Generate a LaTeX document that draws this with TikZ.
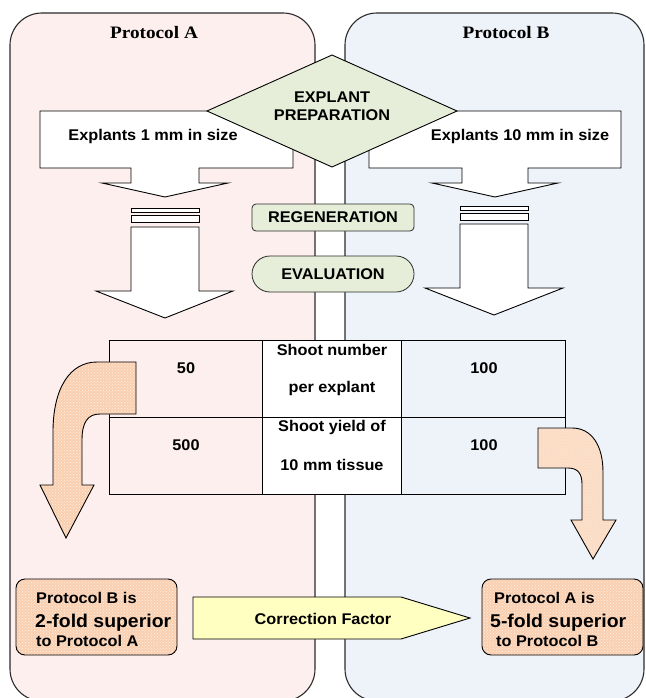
\documentclass[tikz,border=0pt]{standalone}
\usepackage{fontspec}
\setmainfont[FakeStretch=1.05]{Liberation Sans}
\newfontfamily\titlefont[FakeStretch=1.1]{Liberation Serif}
\usetikzlibrary{patterns}
\definecolor{panelA}{HTML}{FDEFED}
\definecolor{panelB}{HTML}{EEF3FA}
\definecolor{sage}{HTML}{E6EED9}
\definecolor{peach}{HTML}{F9CFB0}
\definecolor{peachlt}{HTML}{FBDDC6}
\definecolor{lemon}{HTML}{FFFFC2}
\definecolor{edge}{HTML}{2B2B2B}
\tikzset{
  panel/.style={draw=edge, line width=1.1pt, rounded corners=32pt},
  wshape/.style={draw=black, line width=0.9pt, fill=white},
  lbl/.style={font=\fontsize{15.5}{18}\selectfont\bfseries, inner sep=0pt},
  biglbl/.style={font=\fontsize{18.5}{20}\selectfont\bfseries, inner sep=0pt},
  ttl/.style={font=\titlefont\fontsize{17.5}{20}\selectfont\bfseries, inner sep=0pt},
  greenbox/.style={draw=edge, line width=0.8pt, fill=sage},
  peachfill/.style={preaction={fill=peach}, pattern=crosshatch dots, pattern color=white!70!peach, draw=black, line width=0.9pt},
  peachfilllt/.style={preaction={fill=peachlt}, pattern=dots, pattern color=white!60!peachlt, draw=black, line width=0.9pt},
}
\begin{document}
\begin{tikzpicture}[x=1pt,y=-1pt]
\useasboundingbox (0,0) rectangle (645,698);
% panels
\path[panel, fill=panelA] (10,13) rectangle (315,701);
\path[panel, fill=panelB] (345,13) rectangle (644,701);
\node[ttl] (tA) at (154,33) {Protocol A};
\node[ttl] (tB) at (506,33) {Protocol B};
% callout arrows
\draw[wshape] (40,111) -- (293,111) -- (293,168) -- (199,168) -- (199,183) -- (228,183) -- (165,197) -- (102,183) -- (131,183) -- (131,168) -- (40,168) -- cycle;
\draw[wshape] (369,111) -- (621,111) -- (621,168) -- (528,168) -- (528,183) -- (558,183) -- (495,197) -- (432,183) -- (462,183) -- (462,168) -- (369,168) -- cycle;
\node[lbl] (exA) at (153,136) {Explants 1 mm in size};
\node[lbl] (exB) at (520,136) {Explants 10 mm in size};
% diamond
\draw[greenbox, line width=0.9pt, draw=black] (332,55) -- (457,111) -- (332,167) -- (207,111) -- cycle;
\node[lbl, align=center] (prep) at (332,106) {EXPLANT\\PREPARATION};
% striped arrows
\draw[wshape] (131,208) rectangle (199,212);
\draw[wshape] (131,215) rectangle (199,222);
\draw[wshape] (131,227) -- (199,227) -- (199,291) -- (233,291) -- (165,318) -- (96,291) -- (131,291) -- cycle;
\draw[wshape] (460,206) rectangle (528,210);
\draw[wshape] (460,213) rectangle (528,220);
\draw[wshape] (460,224) -- (528,224) -- (528,288) -- (563,288) -- (494,315) -- (425,288) -- (460,288) -- cycle;
% regeneration / evaluation
\draw[greenbox, rounded corners=4pt] (252,204) rectangle (414,231);
\node[lbl] (regen) at (333,217.5) {REGENERATION};
\draw[greenbox, rounded corners=18pt] (252,256) rectangle (414,292);
\node[lbl] (eval) at (333,274) {EVALUATION};
% table
\fill[white] (262,340) rectangle (401,494);
\draw[line width=1pt] (109,340) rectangle (565,494);
\draw[line width=1pt] (109,417) -- (565,417);
\draw[line width=1pt] (262,340) -- (262,494);
\draw[line width=1pt] (401,340) -- (401,494);
\node[lbl] (n50) at (186,368) {50};
\node[lbl] (sn1) at (332,350) {Shoot number};
\node[lbl] (sn2) at (332,388) {per explant};
\node[lbl] (n100a) at (484,368) {100};
\node[lbl] (n500) at (186,445) {500};
\node[lbl] (sy1) at (332,427) {Shoot yield of};
\node[lbl] (sy2) at (332,465) {10 mm tissue};
\node[lbl] (n100b) at (484,445) {100};
% curved arrows
\path[peachfill] (136,362) -- (97,362) .. controls (70,362) and (53,388) .. (53,432) -- (53,485) -- (40,485) -- (66,538) -- (94,485) -- (82,485) -- (82,440) .. controls (82,422) and (88,414) .. (100,414) -- (136,414) -- cycle;
\path[peachfilllt] (538,428) -- (572,428) .. controls (592,428) and (603,446) .. (603,472) -- (603,520) -- (616,520) -- (593,559) -- (571,520) -- (582,520) -- (582,484) .. controls (582,474) and (578,468) .. (568,468) -- (538,468) -- cycle;
% bottom boxes
\path[peachfill, rounded corners=9pt] (16,579) rectangle (177,655);
\node[lbl, anchor=base west] (bl1) at (36,603) {Protocol B is};
\node[biglbl, anchor=base west] (bl2) at (35,627) {2-fold superior};
\node[lbl, anchor=base west] (bl3) at (36,646) {to Protocol A};
\path[peachfill, rounded corners=9pt] (482,579) rectangle (643,655);
\node[lbl, anchor=base west] (br1) at (494,603) {Protocol A is};
\node[biglbl, anchor=base west] (br2) at (490,627) {5-fold superior};
\node[lbl, anchor=base west] (br3) at (496,646) {to Protocol B};
% correction factor arrow
\draw[line width=0.9pt, fill=lemon] (193,597) -- (401,597) -- (470,618) -- (401,639) -- (193,639) -- cycle;
\node[lbl] (corr) at (323,619) {Correction Factor};
\end{tikzpicture}
\end{document}
